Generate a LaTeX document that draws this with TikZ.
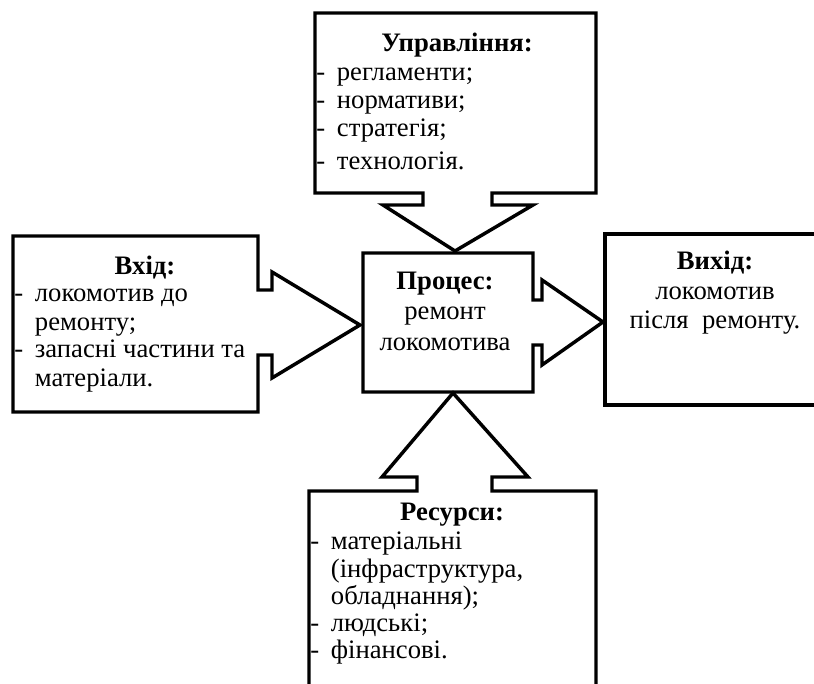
\documentclass[tikz,border=0pt]{standalone}
\usepackage{fontspec}
\setmainfont{Liberation Serif}
\newcommand\boxfont{\fontsize{20}{24}\selectfont}
\newcommand\itm{\makebox[15.5pt][l]{-}}

\begin{document}
\begin{tikzpicture}[x=0.75pt,y=-0.75pt,
  callout/.style={draw, line width=2.6pt, line join=miter},
  txt/.style={font=\boxfont, anchor=base west, inner sep=0pt},
  ctxt/.style={font=\boxfont, anchor=base, inner sep=0pt},
  title/.style={font=\boxfont\bfseries, anchor=base, inner sep=0pt}]
\clip (0,0) rectangle (814,684);

% callout outlines
\draw[callout] (315,13) -- (596,13) -- (596,193) -- (492,193) -- (492,205)
  -- (533,205) -- (455,251) -- (383,205) -- (423,205) -- (423,193) -- (315,193) -- cycle;
\draw[callout] (13,236) -- (258,236) -- (258,290) -- (272,290) -- (272,272)
  -- (360,325) -- (272,378) -- (272,355) -- (258,355) -- (258,412) -- (13,412) -- cycle;
\draw[callout] (363,253) -- (533,253) -- (533,300) -- (542,300) -- (542,280)
  -- (603,322) -- (542,365) -- (542,345) -- (533,345) -- (533,392) -- (363,392) -- cycle;
\draw[callout] (605,234) rectangle (840,405);
\draw[callout] (309,491) -- (417,491) -- (417,477) -- (382,477) -- (453,393)
  -- (528,477) -- (492,477) -- (492,491) -- (596,491) -- (596,720) -- (309,720) -- cycle;

% Управління
\node[title] (upr) at (457,52) {Управління:};
\node[txt] (upr1) at (316,81) {\itm регламенти;};
\node[txt] (upr2) at (316,109) {\itm нормативи;};
\node[txt] (upr3) at (316,137) {\itm стратегія;};
\node[txt] (upr4) at (316,170) {\itm технологія.};

% Вхід
\node[title] (vkh) at (145,275) {Вхід:};
\node[txt] (vkh1) at (14,302) {\itm локомотив до};
\node[txt] (vkh2) at (14,330) {\phantom{\itm}ремонту;};
\node[txt] (vkh3) at (14,358) {\itm запасні частини та};
\node[txt] (vkh4) at (14,386) {\phantom{\itm}матеріали.};

% Процес
\node[title] (proc) at (445,290) {Процес:};
\node[ctxt] (proc1) at (445,320) {ремонт};
\node[ctxt] (proc2) at (445,350) {локомотива};

% Вихід
\node[title] (vyh) at (715,270) {Вихід:};
\node[ctxt] (vyh1) at (715,300) {локомотив};
\node[ctxt] (vyh2) at (715,329) {після\ \ ремонту.};

% Ресурси
\node[title] (res) at (452,520) {Ресурси:};
\node[txt] (res1) at (310,549) {\itm матеріальні};
\node[txt] (res2) at (310,577) {\phantom{\itm}(інфраструктура,};
\node[txt] (res3) at (310,604) {\phantom{\itm}обладнання);};
\node[txt] (res4) at (310,631) {\itm людські;};
\node[txt] (res5) at (310,658) {\itm фінансові.};
\end{tikzpicture}
\end{document}
